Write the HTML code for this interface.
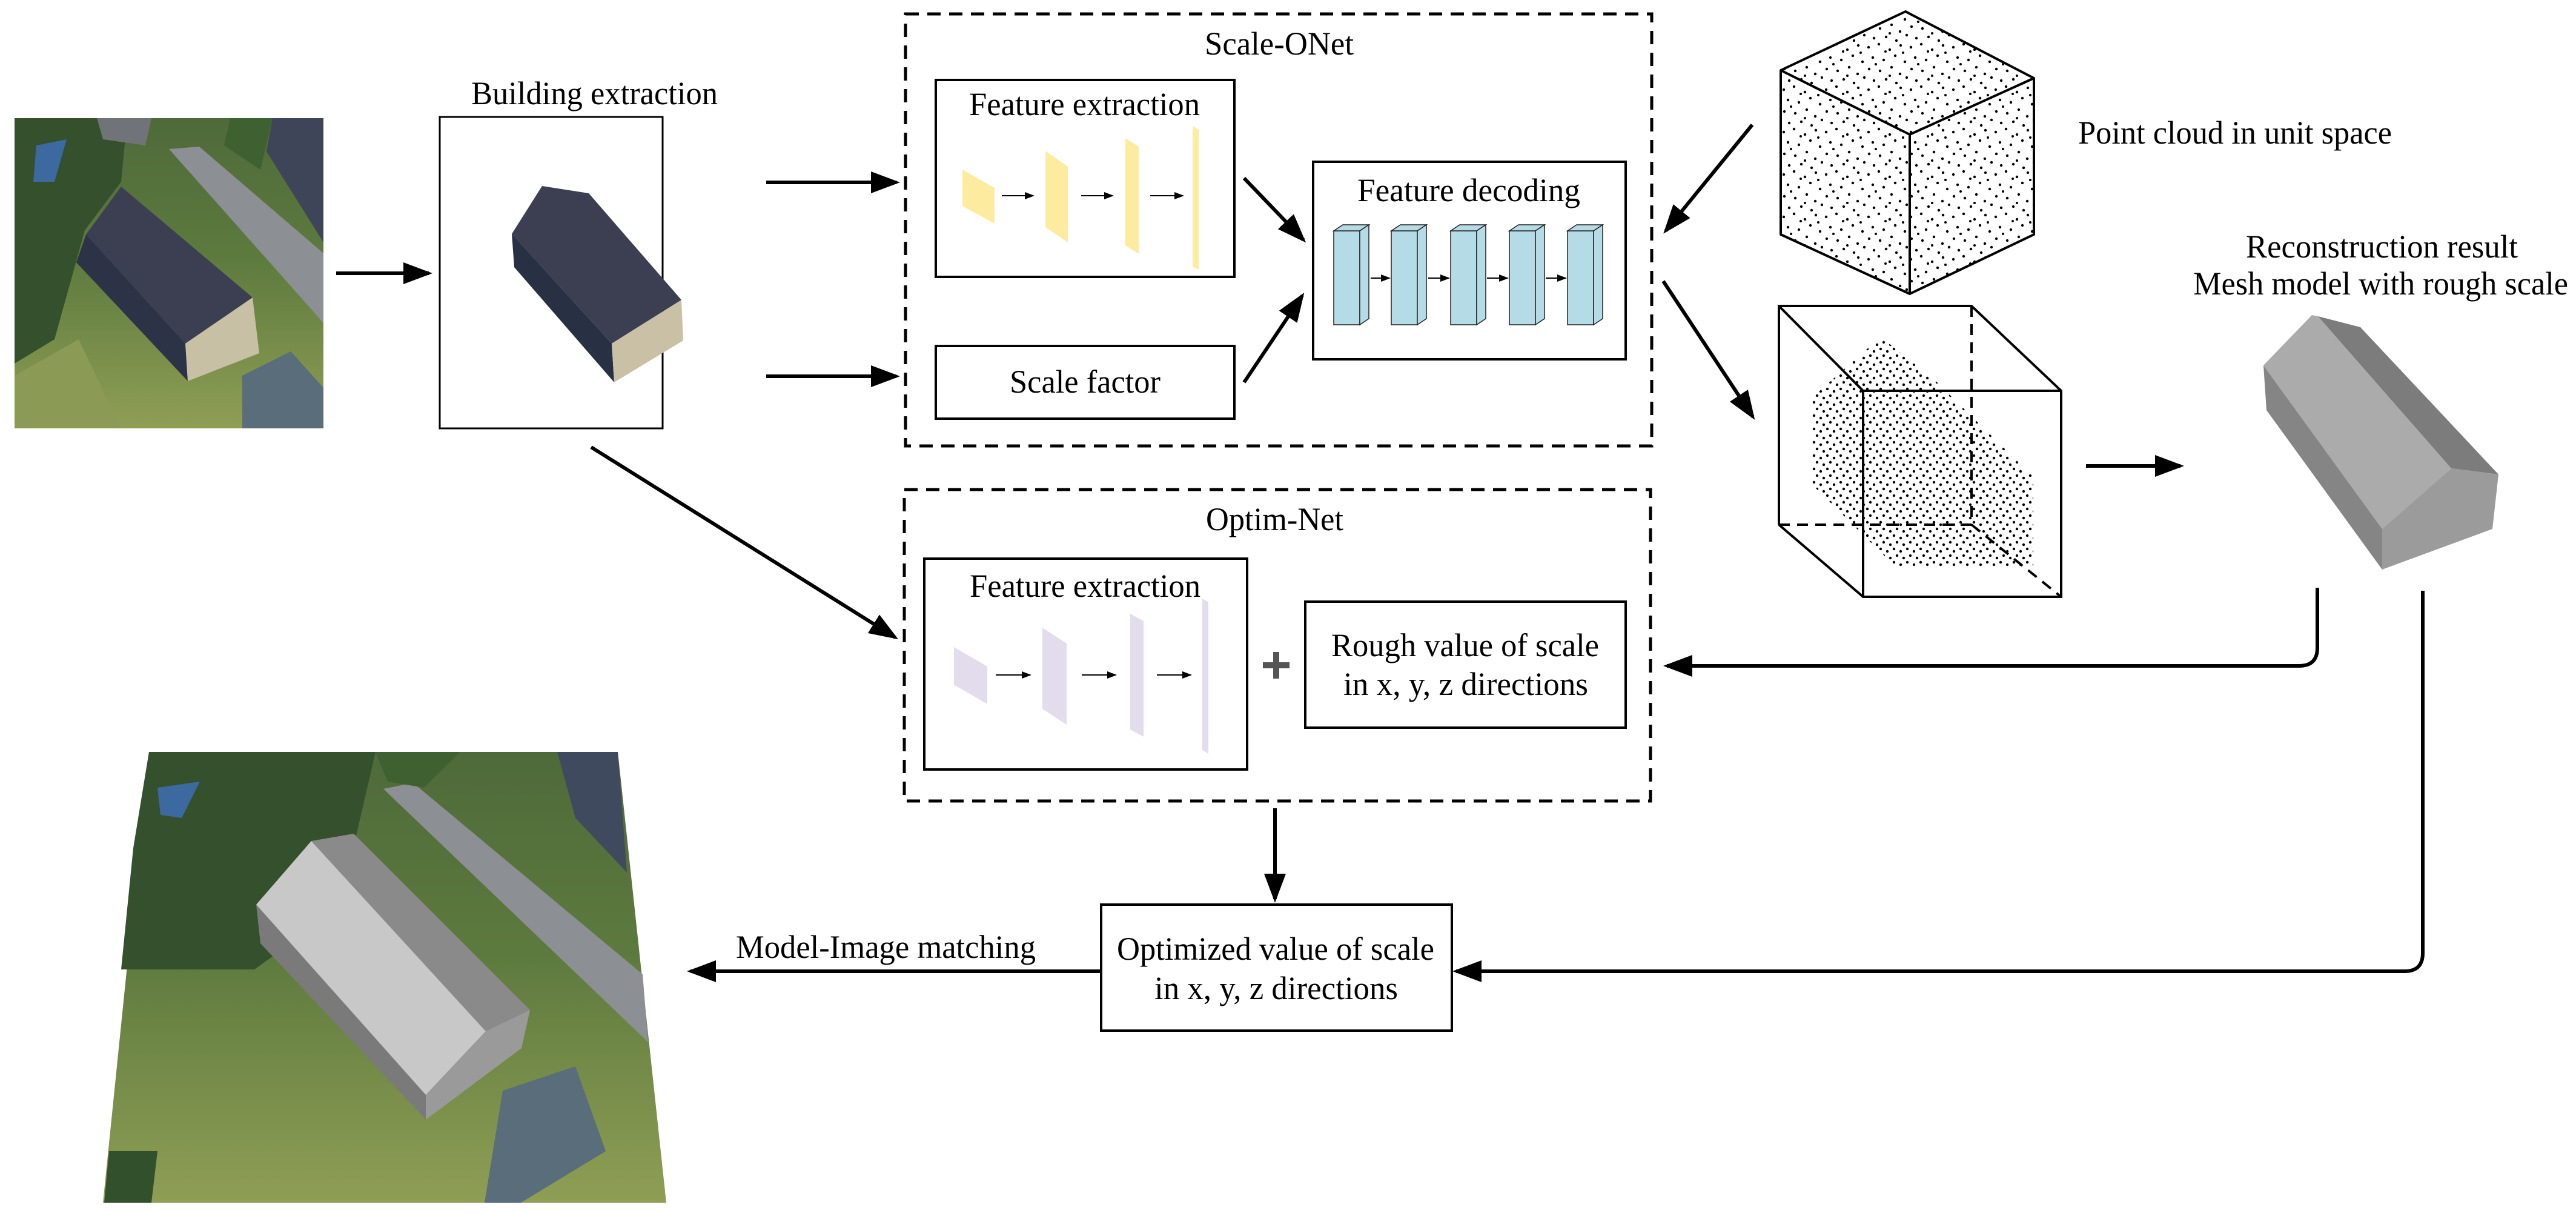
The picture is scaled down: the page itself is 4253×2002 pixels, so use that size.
<!DOCTYPE html>
<html><head><meta charset="utf-8"><style>
html,body{margin:0;padding:0;background:#fff;}
svg{display:block;}
svg text{font-family:"Liberation Serif","Times New Roman",serif;font-size:54px;fill:#000;}
</style></head><body>
<svg width="4253" height="2002" viewBox="0 0 4253 2002" xmlns="http://www.w3.org/2000/svg" font-family="Liberation Serif, serif">
<defs>
<marker id="ah" markerWidth="8" markerHeight="6" refX="7" refY="3" orient="auto" markerUnits="strokeWidth">
<path d="M0,0 L8,3 L0,6 z" fill="#000"/>
</marker>
<marker id="sa" markerWidth="8" markerHeight="6" refX="7" refY="3" orient="auto" markerUnits="strokeWidth">
<path d="M0,0 L8,3 L0,6 z" fill="#000"/>
</marker>
<pattern id="sparse" width="70" height="70" patternUnits="userSpaceOnUse">
<g fill="#000">
<circle cx="5" cy="8" r="2.2"/><circle cx="22" cy="3" r="2.2"/><circle cx="40" cy="12" r="2.2"/><circle cx="58" cy="5" r="2.2"/>
<circle cx="12" cy="25" r="2.2"/><circle cx="30" cy="29" r="2.2"/><circle cx="49" cy="22" r="2.2"/><circle cx="65" cy="32" r="2.2"/>
<circle cx="6" cy="44" r="2.2"/><circle cx="24" cy="47" r="2.2"/><circle cx="43" cy="41" r="2.2"/><circle cx="57" cy="52" r="2.2"/>
<circle cx="14" cy="63" r="2.2"/><circle cx="34" cy="61" r="2.2"/><circle cx="51" cy="67" r="2.2"/><circle cx="68" cy="58" r="2.2"/>
<circle cx="33" cy="15" r="2"/><circle cx="17" cy="36" r="2"/><circle cx="62" cy="17" r="2"/><circle cx="40" cy="55" r="2"/>
</g></pattern>
<pattern id="dense" width="22" height="22" patternUnits="userSpaceOnUse">
<g fill="#000"><circle cx="3" cy="4" r="2.2"/><circle cx="14" cy="8" r="2.2"/><circle cx="8" cy="15" r="2.2"/><circle cx="19" cy="19" r="2.2"/></g>
</pattern>
<linearGradient id="grass" x1="0" y1="0" x2="0" y2="1">
<stop offset="0" stop-color="#4f6a3a"/><stop offset="0.45" stop-color="#5d7a3e"/><stop offset="1" stop-color="#8f9e55"/>
</linearGradient>
</defs>

<!-- Top-left aerial image -->
<g>
<rect x="24" y="195" width="510" height="512" fill="url(#grass)"/>
<polygon points="24,195 210,195 200,300 140,380 90,560 24,600" fill="#34502c"/>
<polygon points="60,240 110,230 90,300 55,300" fill="#3c6aa0"/>
<polygon points="279,246 329,242 534,418 534,533" fill="#8c8f93"/>
<polygon points="160,195 250,195 240,240 170,230" fill="#707378"/>
<polygon points="450,195 534,195 534,400 440,250" fill="#3e4558"/>
<polygon points="380,195 450,195 430,280 370,240" fill="#3f6030"/>
<polygon points="142,387 200,308 417,491 306,567" fill="#3c3f52"/>
<polygon points="142,387 306,567 310,629 126,433" fill="#2c3346"/>
<polygon points="306,567 417,491 428,583 310,629" fill="#c8c0a5"/>
<polygon points="400,620 480,580 534,640 534,707 400,707" fill="#596d7a"/>
<polygon points="24,620 130,560 200,707 24,707" fill="#8b9a55"/>
</g>

<line x1="555" y1="451" x2="708" y2="451" stroke="#000" stroke-width="6" marker-end="url(#ah)"/>

<!-- Building extraction box -->
<text x="778" y="172" textLength="407" lengthAdjust="spacingAndGlyphs">Building extraction</text>
<rect x="726" y="193" width="368" height="514" fill="none" stroke="#000" stroke-width="3"/>
<polygon points="845,386 895,307 972,319 1125,495 1010,567" fill="#3c3f52"/>
<polygon points="845,386 1010,567 1014,631 849,441" fill="#283043"/>
<polygon points="1010,567 1125,495 1128,562 1014,631" fill="#c9c0a6"/>

<line x1="1265" y1="301" x2="1480" y2="301" stroke="#000" stroke-width="6" marker-end="url(#ah)"/>
<line x1="1265" y1="621" x2="1480" y2="621" stroke="#000" stroke-width="6" marker-end="url(#ah)"/>
<line x1="976" y1="738" x2="1478" y2="1052" stroke="#000" stroke-width="6" marker-end="url(#ah)"/>

<!-- Scale-ONet -->
<rect x="1495" y="23" width="1232" height="713" fill="none" stroke="#000" stroke-width="5" stroke-dasharray="22 14"/>
<text x="1989" y="90" textLength="246" lengthAdjust="spacingAndGlyphs">Scale-ONet</text>
<rect x="1545" y="132" width="493" height="325" fill="none" stroke="#000" stroke-width="4"/>
<text x="1600" y="190" textLength="381" lengthAdjust="spacingAndGlyphs">Feature extraction</text>
<g fill="#fdeca0">
<polygon points="1589,280 1642,310 1642,369 1589,340"/>
<polygon points="1726,249 1763,275 1763,400 1726,375"/>
<polygon points="1858,228 1880,242 1880,419 1858,405"/>
<polygon points="1969,208 1979,214 1979,445 1969,440"/>
</g>
<g stroke="#000" stroke-width="2" marker-end="url(#sa)">
<line x1="1654" y1="323" x2="1706" y2="323"/>
<line x1="1785" y1="323" x2="1837" y2="323"/>
<line x1="1899" y1="323" x2="1953" y2="323"/>
</g>
<rect x="1545" y="571" width="493" height="120" fill="none" stroke="#000" stroke-width="4"/>
<text x="1667" y="648" textLength="249" lengthAdjust="spacingAndGlyphs">Scale factor</text>
<line x1="2054" y1="294" x2="2152" y2="396" stroke="#000" stroke-width="6" marker-end="url(#ah)"/>
<line x1="2054" y1="631" x2="2150" y2="488" stroke="#000" stroke-width="6" marker-end="url(#ah)"/>
<rect x="2168" y="267" width="516" height="326" fill="none" stroke="#000" stroke-width="4"/>
<text x="2241" y="332" textLength="368" lengthAdjust="spacingAndGlyphs">Feature decoding</text>
<g fill="#b5dce6" stroke="#222" stroke-width="1.5">
<g id="blk"><rect x="2202" y="381" width="43" height="155"/><polygon points="2202,381 2217,371 2260,371 2245,381"/><polygon points="2245,381 2260,371 2260,526 2245,536"/></g>
<use href="#blk" x="95"/><use href="#blk" x="193"/><use href="#blk" x="290"/><use href="#blk" x="386"/>
</g>
<g stroke="#000" stroke-width="2" marker-end="url(#sa)">
<line x1="2263" y1="459" x2="2294" y2="459"/>
<line x1="2358" y1="459" x2="2392" y2="459"/>
<line x1="2455" y1="459" x2="2489" y2="459"/>
<line x1="2552" y1="459" x2="2585" y2="459"/>
</g>

<!-- Optim-Net -->
<rect x="1493" y="808" width="1232" height="514" fill="none" stroke="#000" stroke-width="5" stroke-dasharray="22 14"/>
<text x="1991" y="875" textLength="227" lengthAdjust="spacingAndGlyphs">Optim-Net</text>
<rect x="1526" y="922" width="533" height="348" fill="none" stroke="#000" stroke-width="4"/>
<text x="1601" y="985" textLength="381" lengthAdjust="spacingAndGlyphs">Feature extraction</text>
<g fill="#e3dced">
<polygon points="1575,1068 1630,1100 1630,1162 1575,1130"/>
<polygon points="1721,1036 1761,1062 1761,1196 1721,1170"/>
<polygon points="1866,1013 1888,1025 1888,1216 1866,1204"/>
<polygon points="1985,988 1995,994 1995,1244 1985,1238"/>
</g>
<g stroke="#000" stroke-width="2" marker-end="url(#sa)">
<line x1="1644" y1="1114" x2="1701" y2="1114"/>
<line x1="1786" y1="1114" x2="1842" y2="1114"/>
<line x1="1910" y1="1114" x2="1966" y2="1114"/>
</g>
<g stroke="#555" stroke-width="10"><line x1="2085" y1="1098" x2="2129" y2="1098"/><line x1="2107" y1="1076" x2="2107" y2="1120"/></g>
<rect x="2155" y="993" width="529" height="208" fill="none" stroke="#000" stroke-width="4"/>
<text x="2198" y="1083" textLength="442" lengthAdjust="spacingAndGlyphs">Rough value of scale</text>
<text x="2218" y="1147" textLength="404" lengthAdjust="spacingAndGlyphs">in x, y, z directions</text>

<line x1="2105" y1="1334" x2="2105" y2="1484" stroke="#000" stroke-width="6" marker-end="url(#ah)"/>

<rect x="1818" y="1493" width="579" height="208" fill="none" stroke="#000" stroke-width="4"/>
<text x="1844" y="1584" textLength="524" lengthAdjust="spacingAndGlyphs">Optimized value of scale</text>
<text x="1906" y="1649" textLength="402" lengthAdjust="spacingAndGlyphs">in x, y, z directions</text>
<line x1="1818" y1="1603" x2="1140" y2="1603" stroke="#000" stroke-width="6" marker-end="url(#ah)"/>
<text x="1215" y="1581" textLength="495" lengthAdjust="spacingAndGlyphs">Model-Image matching</text>

<!-- bottom-left image -->
<g>
<polygon points="246,1241 1020,1241 1100,1985 170,1985" fill="url(#grass)"/>
<polygon points="246,1241 620,1241 560,1500 420,1600 200,1600 220,1400" fill="#34502c"/>
<polygon points="260,1300 330,1290 300,1350 265,1345" fill="#3c6aa0"/>
<polygon points="633,1302 682,1292 1061,1608 1070,1720" fill="#8c8f93"/>
<polygon points="920,1241 1020,1241 1035,1440 950,1350" fill="#404a5e"/>
<polygon points="620,1241 760,1241 700,1300 640,1290" fill="#3f6030"/>
<polygon points="830,1800 950,1760 1000,1900 860,1985 800,1985" fill="#596d7a"/>
<polygon points="180,1900 260,1900 250,1985 172,1985" fill="#33502c"/>
<polygon points="423,1493 430,1557 703,1848 703,1807" fill="#7a7a7a"/>
<polygon points="423,1493 514,1388 802,1702 703,1807" fill="#c8c8c8"/>
<polygon points="514,1388 584,1376 875,1667 802,1702" fill="#8a8a8a"/>
<polygon points="703,1807 802,1702 875,1667 861,1730 703,1848" fill="#9a9a9a"/>
</g>

<!-- point cloud cube -->
<polygon points="2940,116 3146,19 3358,129 3153,222 3153,485 2940,387" fill="url(#sparse)"/>
<polygon points="3153,222 3358,129 3358,387 3153,485" fill="url(#sparse)"/>
<g fill="none" stroke="#000" stroke-width="4" stroke-linejoin="round">
<polygon points="2940,116 3146,19 3358,129 3358,387 3153,485 2940,387"/>
<polyline points="2940,116 3153,222 3358,129"/>
<line x1="3153" y1="222" x2="3153" y2="485"/>
</g>
<text x="3431" y="237" textLength="518" lengthAdjust="spacingAndGlyphs">Point cloud in unit space</text>

<line x1="2893" y1="206" x2="2750" y2="381" stroke="#000" stroke-width="6" marker-end="url(#ah)"/>
<line x1="2746" y1="464" x2="2894" y2="688" stroke="#000" stroke-width="6" marker-end="url(#ah)"/>

<!-- second cube -->
<polygon points="2992,656 3105,556 3194,627 3357,787 3357,936 3130,936 2992,800" fill="url(#dense)"/>
<g fill="none" stroke="#000" stroke-width="4">
<polyline points="2937,866 2937,505 3255,505 3403,645 3403,985 3076,985 2937,866"/>
<polyline points="2937,505 3076,645 3403,645"/>
<line x1="3076" y1="645" x2="3076" y2="985"/>
<g stroke-dasharray="18 12"><line x1="3255" y1="505" x2="3255" y2="866"/><line x1="2937" y1="866" x2="3255" y2="866"/><line x1="3255" y1="866" x2="3403" y2="985"/></g>
</g>
<line x1="3444" y1="769" x2="3600" y2="769" stroke="#000" stroke-width="6" marker-end="url(#ah)"/>

<!-- reconstruction -->
<text x="3708" y="425" textLength="449" lengthAdjust="spacingAndGlyphs">Reconstruction result</text>
<text x="3621" y="486" textLength="619" lengthAdjust="spacingAndGlyphs">Mesh model with rough scale</text>
<polygon points="3737,603 3933,873 3933,940 3742,677" fill="#858585"/>
<polygon points="3737,603 3817,520 3827,522 4047,773 3933,873" fill="#ababab"/>
<polygon points="3827,522 3897,540 4125,783 4047,773" fill="#7c7c7c"/>
<polygon points="3933,873 4047,773 4125,783 4115,873 3933,940" fill="#9b9b9b"/>

<path d="M3826 970 V1069 Q3826 1099 3796 1099 H2752" fill="none" stroke="#000" stroke-width="6" marker-end="url(#ah)"/>
<path d="M4000 975 V1573 Q4000 1603 3970 1603 H2404" fill="none" stroke="#000" stroke-width="6" marker-end="url(#ah)"/>
</svg>
</body></html>
